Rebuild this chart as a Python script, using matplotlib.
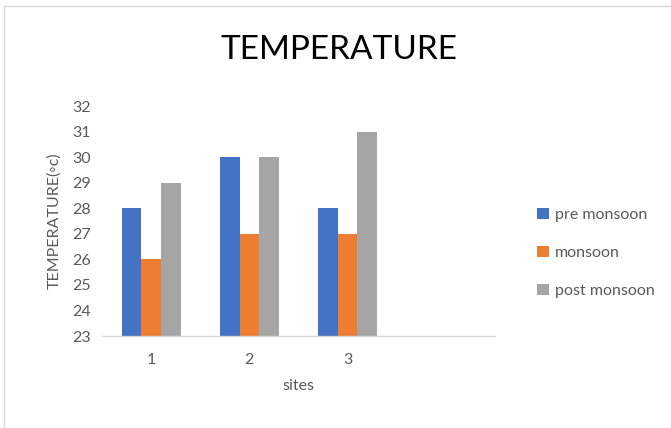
import matplotlib
matplotlib.use("Agg")
import matplotlib.pyplot as plt
from matplotlib.lines import Line2D
import numpy as np

categories = ["1", "2", "3", ""]
pre_monsoon = [28, 30, 28]
monsoon = [26, 27, 27]
post_monsoon = [29, 30, 31]
series_names = ["pre monsoon", "monsoon", "post monsoon"]
colors = ["#4472C4", "#ED7D31", "#A5A5A5"]
yticks = list(range(23, 33))

plt.rcParams['font.family'] = ['Lato', 'DejaVu Sans']

W, H = 671, 428
fig = plt.figure(figsize=(W / 100, H / 100), dpi=100)
ax = fig.add_axes([102 / W, 92 / H, (495 - 102) / W, (336 - 106) / H])

x = np.arange(len(pre_monsoon))
width = 0.2
for i, (vals, name, c) in enumerate(zip([pre_monsoon, monsoon, post_monsoon], series_names, colors)):
    ax.bar(x + (i - 1) * width, np.array(vals) - 23, bottom=23, width=width, color=c, label=name, zorder=2)

ax.set_xlim(-0.5, len(categories) - 0.5)
ax.set_ylim(23, 32)
ax.set_yticks(yticks)
ax.set_xticks(range(3))
ax.set_xticklabels(categories[:3])
ax.tick_params(axis='both', length=0, labelsize=11.5, colors="#595959")
ax.tick_params(axis='x', pad=12)
ax.tick_params(axis='y', pad=8)
for s in ["top", "right", "left"]:
    ax.spines[s].set_visible(False)
ax.spines["bottom"].set_color("#D9D9D9")
ax.spines["bottom"].set_linewidth(1)

ax.set_xlabel("sites", fontsize=11.5, color="#595959", labelpad=9)
ax.set_ylabel("TEMPERATURE(◦c)", fontsize=11.5, color="#595959", labelpad=8)

fig.text(339 / W, 1 - 50 / H, "TEMPERATURE", ha="center", va="center", fontsize=24, color="#000000")

fig.legend(loc="center left", bbox_to_anchor=(523 / W, 1 - 253 / H), frameon=False,
           fontsize=11.5, labelcolor="#595959", handlelength=0.7, handleheight=0.7,
           handletextpad=0.4, labelspacing=1.5)

# chart border
fig.add_artist(Line2D([4 / W, 4 / W], [0, 1 - 6 / H], transform=fig.transFigure, color="#D9D9D9", lw=1))
fig.add_artist(Line2D([4 / W, 1], [1 - 6 / H, 1 - 6 / H], transform=fig.transFigure, color="#D9D9D9", lw=1))

fig.savefig("out.png", dpi=100)
